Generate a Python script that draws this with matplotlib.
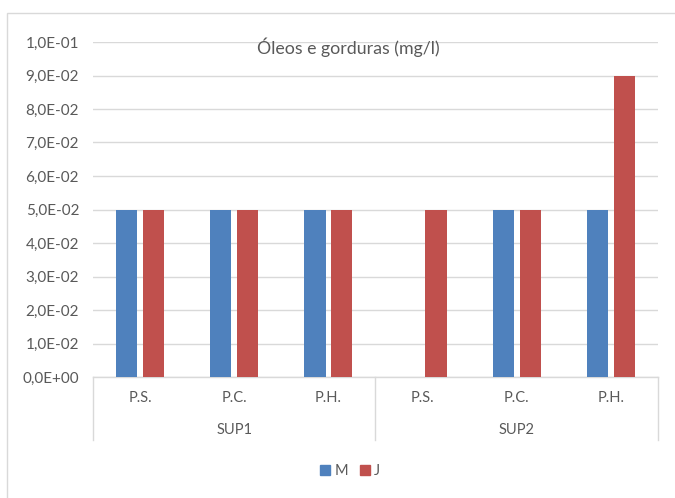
import matplotlib
matplotlib.use("Agg")
import matplotlib.pyplot as plt
import numpy as np
from matplotlib.patches import Rectangle
from matplotlib.lines import Line2D

groups = ["SUP1", "SUP2"]
sub_labels = ["P.S.", "P.C.", "P.H.", "P.S.", "P.C.", "P.H."]
M = [0.05, 0.05, 0.05, np.nan, 0.05, 0.05]
J = [0.05, 0.05, 0.05, 0.05, 0.05, 0.09]
yticks = [0.0, 0.01, 0.02, 0.03, 0.04, 0.05, 0.06, 0.07, 0.08, 0.09, 0.10]
ytick_labels = ["0,0E+00", "1,0E-02", "2,0E-02", "3,0E-02", "4,0E-02", "5,0E-02",
                "6,0E-02", "7,0E-02", "8,0E-02", "9,0E-02", "1,0E-01"]

plt.rcParams['font.family'] = ['Lato', 'DejaVu Sans']
txt = '#595959'
grid = '#d9d9d9'

W, H = 675, 498
fig = plt.figure(figsize=(W/100, H/100), dpi=100)
fig.patches.append(Rectangle((7/W, -0.01), 1.0, 1 - 13/H + 0.01, transform=fig.transFigure,
                             fill=False, edgecolor=grid, linewidth=1.0))

ax = fig.add_axes([93/W, 1 - 377/H, (658-93)/W, (377-42)/H])
x = np.arange(len(sub_labels))
bw = 0.225
off = 0.143
ax.bar(x - off, M, bw, color='#4f81bd', label='M', zorder=3)
ax.bar(x + off, J, bw, color='#c0504d', label='J', zorder=3)

ax.set_xlim(-0.5, len(sub_labels) - 0.5)
ax.set_ylim(0, 0.1)
ax.set_yticks(yticks)
ax.set_yticklabels(ytick_labels, color=txt, fontsize=11)
ax.tick_params(axis='y', length=0, pad=10)
ax.set_xticks([])
ax.yaxis.grid(True, color=grid, linewidth=1.0, zorder=0)
for s in ['top', 'right', 'left']:
    ax.spines[s].set_visible(False)
ax.spines['bottom'].set_color(grid)
ax.spines['bottom'].set_linewidth(1.0)

# two-level category axis
tr = ax.get_xaxis_transform()
for i, lab in enumerate(sub_labels):
    ax.text(i, -21/335, lab, transform=tr, ha='center', va='center', color=txt, fontsize=10.5)
for g, name in enumerate(groups):
    ax.text(g*3 + 1, -53/335, name, transform=tr, ha='center', va='center', color=txt, fontsize=10.5)
for xs in [-0.5, 2.5, 5.5]:
    ax.add_line(Line2D([xs, xs], [0, -63/335], transform=tr, color=grid, linewidth=1.0, clip_on=False))

fig.text(348/W, 1 - 47/H, "Óleos e gorduras (mg/l)", ha='center', va='center', color=txt, fontsize=12.8)

handles = [Rectangle((0, 0), 1, 1, color='#4f81bd'), Rectangle((0, 0), 1, 1, color='#c0504d')]
leg = fig.legend(handles, ['M', 'J'], loc='center', bbox_to_anchor=(350/W, 1 - 471/H), ncol=2,
                 frameon=False, handlelength=0.7, handleheight=0.7, handletextpad=0.3,
                 columnspacing=0.8, fontsize=10.5)
for t in leg.get_texts():
    t.set_color(txt)

fig.savefig("out.png", dpi=100)
